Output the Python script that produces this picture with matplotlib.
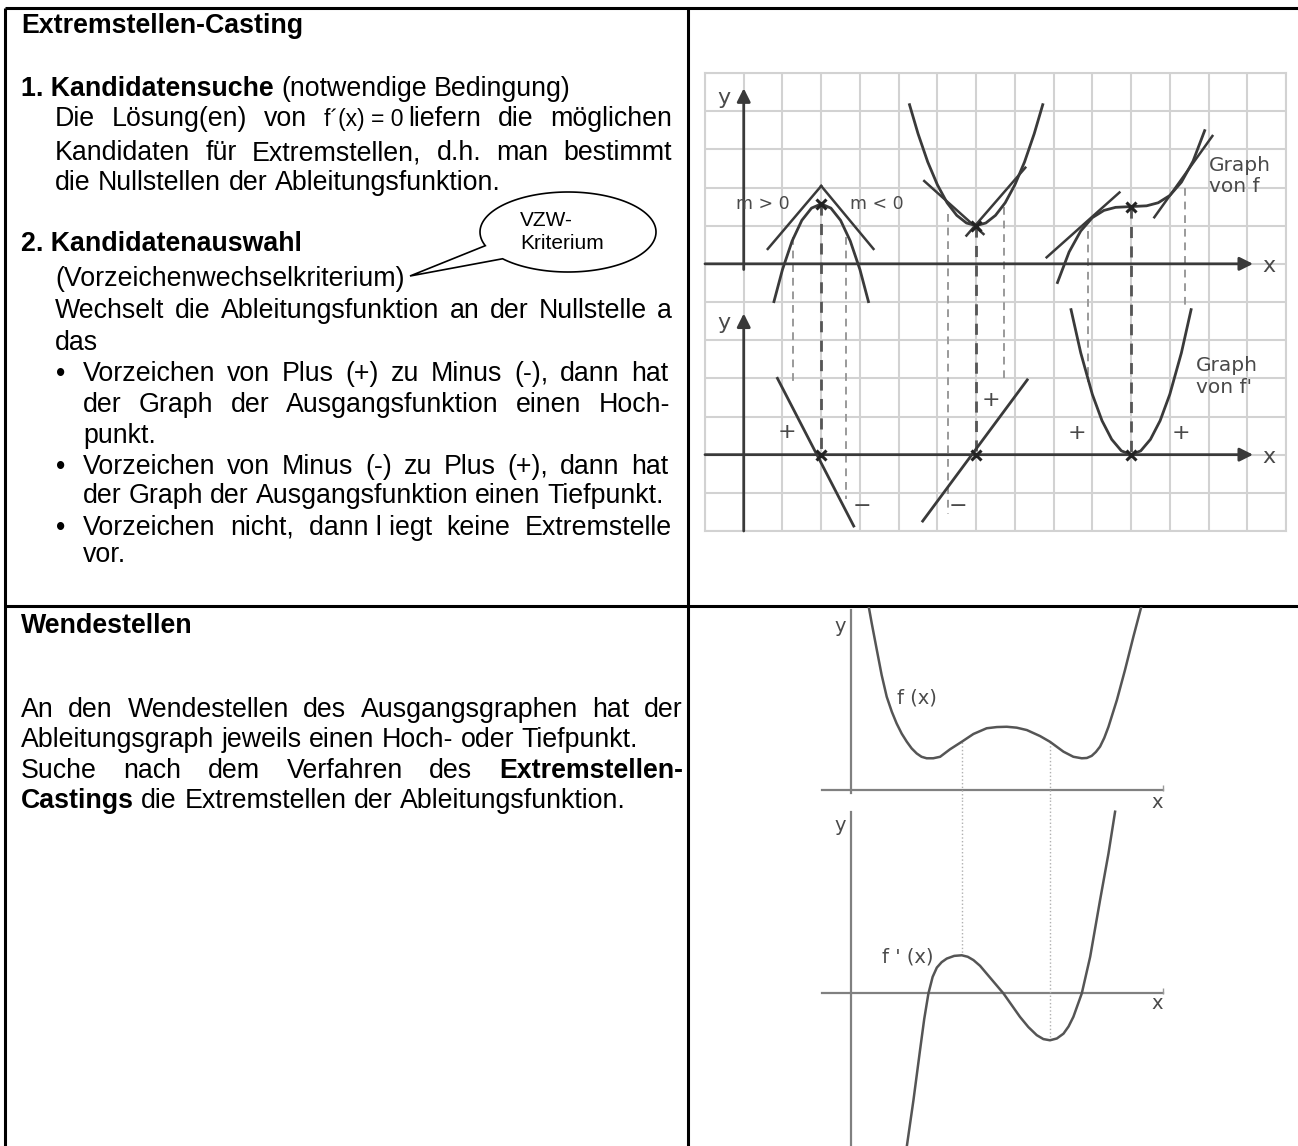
import matplotlib
matplotlib.use('Agg')
import matplotlib.pyplot as plt
import numpy as np
from matplotlib.patches import Polygon

W, H = 1298, 1146
FONT = 'Liberation Sans'
FS = 19.3

# --- grid picture, top right (grid units: y axis at x=1, f axis at y=7, f' axis at y=2)
hi_x = [1.78, 2.0, 2.25, 2.5, 2.75, 3.0, 3.25, 3.5, 3.75, 4.0, 4.22]
hi_y = [6.01, 6.85, 7.60, 8.14, 8.46, 8.57, 8.46, 8.14, 7.60, 6.85, 6.01]
lo_x = [5.28, 5.5, 5.75, 6.0, 6.25, 6.5, 6.75, 7.0, 7.25, 7.5, 7.75, 8.0, 8.25, 8.5, 8.72]
lo_y = [11.17, 10.41, 9.67, 9.07, 8.60, 8.27, 8.07, 8.0, 8.07, 8.27, 8.60, 9.07, 9.67, 10.41, 11.17]
sad_x = [9.1, 9.4, 9.7, 10.0, 10.3, 10.6, 11.0, 11.4, 11.7, 12.0, 12.3, 12.6, 12.9]
sad_y = [6.51, 7.31, 7.86, 8.21, 8.40, 8.48, 8.5, 8.52, 8.60, 8.79, 9.14, 9.69, 10.49]
tan_x = [(1.62, 3.0), (3.0, 4.35), (5.66, 7.19), (6.75, 8.27), (8.82, 10.7), (11.6, 13.1)]
tan_y = [(7.39, 9.04), (9.04, 7.39), (9.17, 7.78), (7.74, 9.52), (7.17, 8.87), (8.22, 10.35)]
fall_x, fall_y = (1.87, 3.84), (4.0, 0.13)
rise_x, rise_y = (5.62, 8.32), (0.26, 3.96)
par_x = [9.45, 9.7, 10.0, 10.25, 10.5, 10.75, 11.0, 11.25, 11.5, 11.75, 12.0, 12.3, 12.55]
par_y = [5.80, 4.67, 3.58, 2.89, 2.40, 2.10, 2.0, 2.10, 2.40, 2.89, 3.58, 4.67, 5.80]
drop_x = [2.27, 3.0, 3.64, 6.28, 7.0, 7.73, 9.9, 11.0, 12.38]
drop_top = [7.7, 8.57, 7.7, 8.3, 8.0, 8.5, 7.85, 8.5, 9.0]
drop_bot = [3.9, 2.0, 0.85, 0.45, 2.0, 4.0, 3.9, 2.0, 5.9]
drop_main = [False, True, False, False, True, False, False, True, False]
cross_x = [3.0, 7.0, 11.0, 3.0, 7.0, 11.0]
cross_y = [8.57, 8.0, 8.5, 2.0, 2.0, 2.0]
sign_txt = ['+', '\u2212', '\u2212', '+', '+', '+']
sign_x = [2.12, 4.04, 6.53, 7.39, 9.6, 12.3]
sign_y = [2.6, 0.65, 0.65, 3.43, 2.57, 2.57]

# --- bottom right: f(x) and f'(x)
f_x = [0.59, 0.70, 0.87, 1.03, 1.20, 1.37, 1.53, 1.70, 1.87, 2.03, 2.20, 2.36, 2.53, 2.75, 2.98,
       3.31, 3.70, 4.09, 4.53, 4.87, 5.20, 5.53, 5.87, 6.31, 6.64, 7.09, 7.42, 7.70, 7.87, 8.03,
       8.17, 8.31, 8.45, 8.59, 8.87, 9.14, 9.42, 9.70]
f_y = [6.17, 5.56, 4.67, 3.84, 3.11, 2.61, 2.22, 1.88, 1.61, 1.39, 1.22, 1.11, 1.06, 1.06, 1.11,
       1.36, 1.61, 1.87, 2.06, 2.10, 2.11, 2.08, 2.00, 1.80, 1.61, 1.28, 1.11, 1.06, 1.07, 1.14,
       1.27, 1.45, 1.74, 2.11, 3.00, 4.00, 5.11, 6.17]
d_x = [1.87, 2.09, 2.31, 2.45, 2.59, 2.73, 2.87, 3.03, 3.20, 3.45, 3.70, 3.90, 4.09, 4.31, 4.53,
       5.09, 5.64, 5.92, 6.20, 6.42, 6.64, 6.87, 7.09, 7.26, 7.42, 7.70, 7.98, 8.31, 8.59, 8.81]
d_y = [-5.09, -3.56, -1.89, -0.85, 0.00, 0.55, 0.86, 1.04, 1.16, 1.25, 1.27, 1.22, 1.11, 0.92, 0.66,
       0.00, -0.78, -1.12, -1.39, -1.52, -1.56, -1.50, -1.34, -1.10, -0.78, 0.00, 1.22, 3.11, 4.66, 6.05]
infl_x = [3.70, 6.64]
infl_f = [1.61, 1.61]
infl_d = [1.27, -1.56]

fig = plt.figure(figsize=(W / 100, H / 100), dpi=100)
ax = fig.add_axes([0, 0, 1, 1])
ax.set_xlim(0, W)
ax.set_ylim(H, 0)
ax.axis('off')
renderer = fig.canvas.get_renderer()


def px_axes(x0, y0, x1, y1):
    return fig.add_axes([x0 / W, 1 - y1 / H, (x1 - x0) / W, (y1 - y0) / H])


# table lines
for xs, ys in [((5, W), (8, 8)), ((5, 5), (8, H)), ((688, 688), (8, H)), ((5, W), (606, 606))]:
    ax.plot(xs, ys, color='black', lw=2.2, solid_capstyle='butt')


def seg_text(s, style, y):
    kw = dict(fontsize=FS, family=FONT, va='baseline', ha='left', color='black')
    if style == 'b':
        kw['fontweight'] = 'bold'
    if style == 'm':
        kw['fontsize'] = 16.5
    return ax.text(0, y, s, **kw)


t1, t2 = seg_text('n n', 'n', 0), seg_text('nn', 'n', 0)
SPACE = t1.get_window_extent(renderer).width - t2.get_window_extent(renderer).width
t1.remove()
t2.remove()


def text_line(y, x0, tokens, x1=None):
    toks = []
    for tok in tokens:
        segs = [(tok, 'n')] if isinstance(tok, str) else tok
        toks.append([seg_text(s, st, y) for s, st in segs])
    wid = [[t.get_window_extent(renderer).width for t in tok] for tok in toks]
    tw = [sum(w) + 5 * (len(w) - 1) for w in wid]
    if x1 is None or len(toks) < 2:
        gap = SPACE
    else:
        gap = (x1 - x0 - sum(tw)) / (len(toks) - 1)
    x = x0
    for tok, w in zip(toks, wid):
        for t, wi in zip(tok, w):
            t.set_x(x)
            x += wi + 5
        x += gap - 5


def just(s):
    return s.split(' ')


# left column, row 1
text_line(33, 21, [[('Extremstellen-Casting', 'b')]])
text_line(96, 21, [[('1. Kandidatensuche', 'b')], '(notwendige', 'Bedingung)'])
text_line(126, 55, ['Die', 'Lösung(en)', 'von', [('f\u00b4(x) = 0', 'm'), ('liefern', 'n')], 'die', 'möglichen'], 672)
text_line(160, 55, just('Kandidaten für Extremstellen, d.h. man bestimmt'), 672)
text_line(190, 55, just('die Nullstellen der Ableitungsfunktion.'))
text_line(251, 21, [[('2. Kandidatenauswahl', 'b')]])
text_line(286, 55, ['(Vorzeichenwechselkriterium)'])
text_line(318, 55, just('Wechselt die Ableitungsfunktion an der Nullstelle a'), 672)
text_line(350, 55, ['das'])
for yb in (381, 474, 535):
    ax.text(56, yb, '\u2022', fontsize=FS, family=FONT, va='baseline')
text_line(381, 83, just('Vorzeichen von Plus (+) zu Minus (-), dann hat'), 668)
text_line(412, 83, just('der Graph der Ausgangsfunktion einen Hoch-'), 670)
text_line(443, 83, ['punkt.'])
text_line(474, 83, just('Vorzeichen von Minus (-) zu Plus (+), dann hat'), 668)
text_line(503, 83, just('der Graph der Ausgangsfunktion einen Tiefpunkt.'), 664)
text_line(535, 83, ['Vorzeichen', 'nicht,', 'dann l iegt', 'keine', 'Extremstelle'], 672)
text_line(562, 83, ['vor.'])

# left column, row 2
text_line(633, 21, [[('Wendestellen', 'b')]])
text_line(717, 21, just('An den Wendestellen des Ausgangsgraphen hat der'), 683)
text_line(747, 21, just('Ableitungsgraph jeweils einen Hoch- oder Tiefpunkt.'))
text_line(778, 21, just('Suche nach dem Verfahren des') + [[('Extremstellen-', 'b')]], 683)
text_line(808, 21, [[('Castings', 'b')]] + just('die Extremstellen der Ableitungsfunktion.'))

# callout bubble
cx, cy, rx, ry = 568, 232, 88, 40
th = np.radians(np.linspace(160, 138 + 360, 150))
pts = np.column_stack([cx + rx * np.cos(th), cy + ry * np.sin(th)])
pts = np.vstack([pts, [410, 276]])
ax.add_patch(Polygon(pts, closed=True, fc='white', ec='black', lw=1.2, zorder=5))
ax.text(520, 226, 'VZW-', fontsize=15, family=FONT, va='baseline', zorder=6)
ax.text(520, 249, 'Kriterium', fontsize=15, family=FONT, va='baseline', zorder=6)

# ---- top right grid picture
ink = '#3a3a3a'
lab = dict(family='DejaVu Sans', color='#4a4a4a')
g = px_axes(705, 73, 1286, 531)
g.set_xlim(0, 15)
g.set_ylim(0, 12)
g.set_xticks(np.arange(16))
g.set_yticks(np.arange(13))
g.grid(True, color='#d2d2d2', lw=1.5)
g.tick_params(length=0, labelbottom=False, labelleft=False)
for s in g.spines.values():
    s.set_color('#d2d2d2')
    s.set_linewidth(1.5)

arrow = dict(arrowstyle='-|>', color=ink, lw=2.0, mutation_scale=20, shrinkA=0, shrinkB=0)
g.annotate('', xy=(14.15, 7), xytext=(0, 7), arrowprops=arrow)
g.annotate('', xy=(14.15, 2), xytext=(0, 2), arrowprops=arrow)
g.annotate('', xy=(1, 11.6), xytext=(1, 6.85), arrowprops=arrow)
g.annotate('', xy=(1, 5.7), xytext=(1, 0), arrowprops=arrow)
g.text(0.5, 11.35, 'y', fontsize=16, ha='center', va='center', **lab)
g.text(0.5, 5.45, 'y', fontsize=16, ha='center', va='center', **lab)
g.text(14.55, 6.95, 'x', fontsize=16, ha='center', va='center', **lab)
g.text(14.55, 1.95, 'x', fontsize=16, ha='center', va='center', **lab)

for x, y0, y1, main in zip(drop_x, drop_top, drop_bot, drop_main):
    g.plot([x, x], [y0, y1], color='#555555' if main else '#9a9a9a',
           lw=2.0 if main else 1.4, ls=(0, (4, 3)), zorder=2)

for xs, ys in zip(tan_x, tan_y):
    g.plot(xs, ys, color=ink, lw=1.8, zorder=3)
g.plot(hi_x, hi_y, color=ink, lw=2.0, zorder=3)
g.plot(lo_x, lo_y, color=ink, lw=2.0, zorder=3)
g.plot(sad_x, sad_y, color=ink, lw=2.0, zorder=3)
g.plot(fall_x, fall_y, color=ink, lw=2.0, zorder=3)
g.plot(rise_x, rise_y, color=ink, lw=2.0, zorder=3)
g.plot(par_x, par_y, color=ink, lw=2.0, zorder=3)
g.plot(cross_x, cross_y, 'x', color='#222222', ms=7, mew=2.2, zorder=4)

g.text(1.5, 8.57, 'm > 0', fontsize=12.5, ha='center', va='center', **lab)
g.text(4.43, 8.57, 'm < 0', fontsize=12.5, ha='center', va='center', **lab)
g.text(13.02, 9.3, 'Graph\nvon f', fontsize=14.5, ha='left', va='center', linespacing=1.15, **lab)
g.text(12.68, 4.05, "Graph\nvon f'", fontsize=14.5, ha='left', va='center', linespacing=1.15, **lab)
for s, x, y in zip(sign_txt, sign_x, sign_y):
    g.text(x, y, s, fontsize=16, ha='center', va='center', **lab)

# ---- bottom right: f and f'
gray = '#555555'
fa = px_axes(815, 607, 1170, 800)
fa.set_xlim(-1.19, 10.64)
fa.set_ylim(-0.33, 6.1)
fa.axis('off')
fd = px_axes(815, 800, 1170, 1146)
fd.set_xlim(-1.19, 10.64)
fd.set_ylim(-5.08, 6.44)
fd.axis('off')

fa.plot([-0.97, 10.41], [0, 0], color='#808080', lw=1.6)
fa.plot([0, 0], [-0.1, 6.0], color='#808080', lw=1.6)
fd.plot([-0.97, 10.41], [0, 0], color='#808080', lw=1.6)
fd.plot([0, 0], [-5.08, 6.05], color='#808080', lw=1.6)
for a in (fa, fd):
    a.plot([10.41], [0.07], marker='|', color='#9a9a9a', ms=5)

for x, yf, yd in zip(infl_x, infl_f, infl_d):
    fa.plot([x, x], [yf, -0.33], color='#b0b0b0', lw=1.0, ls=':')
    fd.plot([x, x], [6.44, yd], color='#b0b0b0', lw=1.0, ls=':')

fa.plot(f_x, f_y, color=gray, lw=1.8)
fd.plot(d_x, d_y, color=gray, lw=1.8)

fa.text(-0.36, 5.45, 'y', fontsize=14, ha='center', va='center', **lab)
fd.text(-0.36, 5.6, 'y', fontsize=14, ha='center', va='center', **lab)
fa.text(10.2, -0.42, 'x', fontsize=14, ha='center', va='center', **lab)
fd.text(10.22, -0.35, 'x', fontsize=14, ha='center', va='center', **lab)
fa.text(1.53, 3.07, 'f (x)', fontsize=14, ha='left', va='center', **lab)
fd.text(1.03, 1.22, "f ' (x)", fontsize=14, ha='left', va='center', **lab)

fig.savefig('out.png', dpi=100, facecolor='white')
